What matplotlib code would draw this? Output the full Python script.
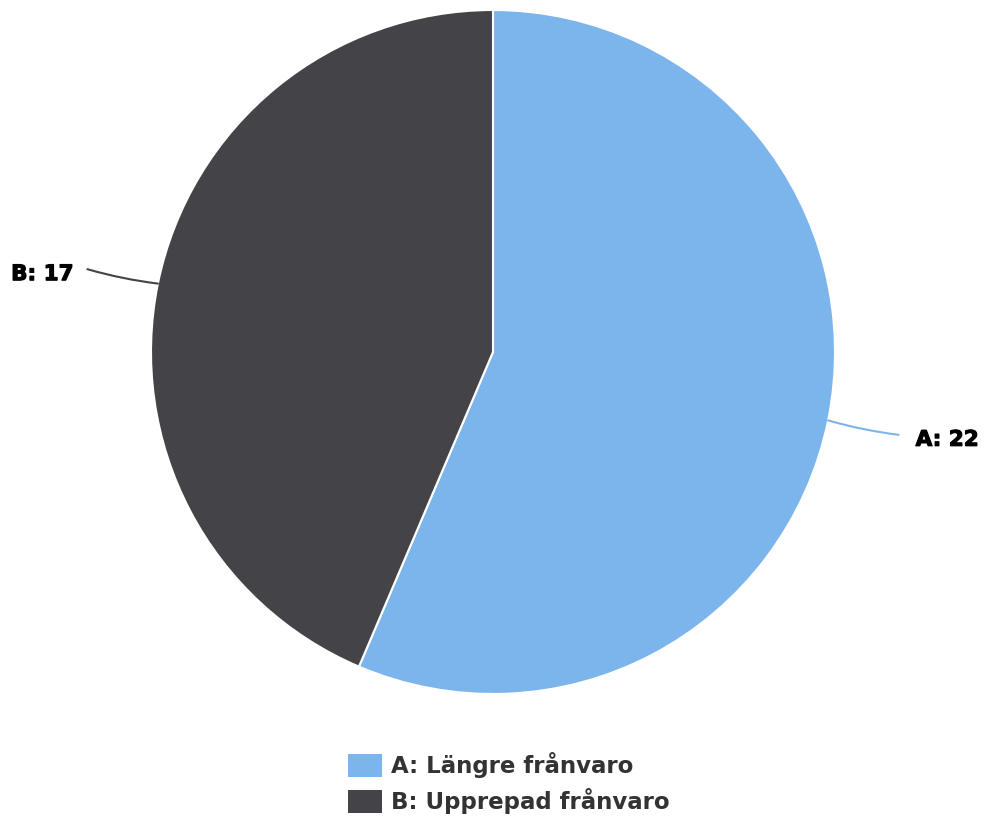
import numpy as np
import matplotlib.pyplot as plt
import matplotlib.patheffects as pe
from matplotlib.patches import Patch

labels = ['A', 'B']
values = [22, 17]
legend_names = ['A: Längre frånvaro', 'B: Upprepad frånvaro']
colors = ['#7cb5ec', '#434348']

W, H = 985, 819
fig = plt.figure(figsize=(W / 100, H / 100), dpi=100)
ax = fig.add_axes([0, 0, 1, 1])

cx, cy, r = 493, H - 352, 342
wedges, _ = ax.pie(values, colors=colors, startangle=90, counterclock=False,
                   center=(cx, cy), radius=r,
                   wedgeprops=dict(edgecolor='white', linewidth=1.5))
ax.set_xlim(0, W)
ax.set_ylim(0, H)
ax.set_aspect('equal')
ax.axis('off')

# data labels with connectors
for w, lab, val, col in zip(wedges, labels, values, colors):
    mid = np.deg2rad((w.theta1 + w.theta2) / 2)
    dx, dy = np.cos(mid), np.sin(mid)
    start = (cx + r * dx, cy + r * dy)
    end = (cx + (r + 72) * dx, cy + (r + 72) * dy)
    side = 1 if dx > 0 else -1
    rad = -0.04 if side > 0 else 0.04
    ax.annotate('', xy=start, xytext=end,
                arrowprops=dict(arrowstyle='-', color=col, lw=1.5,
                                shrinkA=0, shrinkB=0,
                                connectionstyle='arc3,rad=%s' % rad))
    ax.text(end[0] + side * (17 if side > 0 else 14), end[1] - 5, '%s: %d' % (lab, val),
            ha='left' if side > 0 else 'right', va='center',
            fontsize=15.5, fontweight='bold', color='black',
            path_effects=[pe.withStroke(linewidth=0.8, foreground='black')])

handles = [Patch(facecolor=c, edgecolor='none') for c in colors]
leg = fig.legend(handles, legend_names, loc='upper left',
                 bbox_to_anchor=(348 / W, 1 - 752 / H), frameon=False,
                 borderpad=0, borderaxespad=0, handlelength=1.48, handleheight=1.15,
                 handletextpad=0.4, labelspacing=0.45,
                 prop=dict(size=16.5, weight='bold'))
for t in leg.get_texts():
    t.set_color('#333333')

fig.savefig('out.png', dpi=100)
